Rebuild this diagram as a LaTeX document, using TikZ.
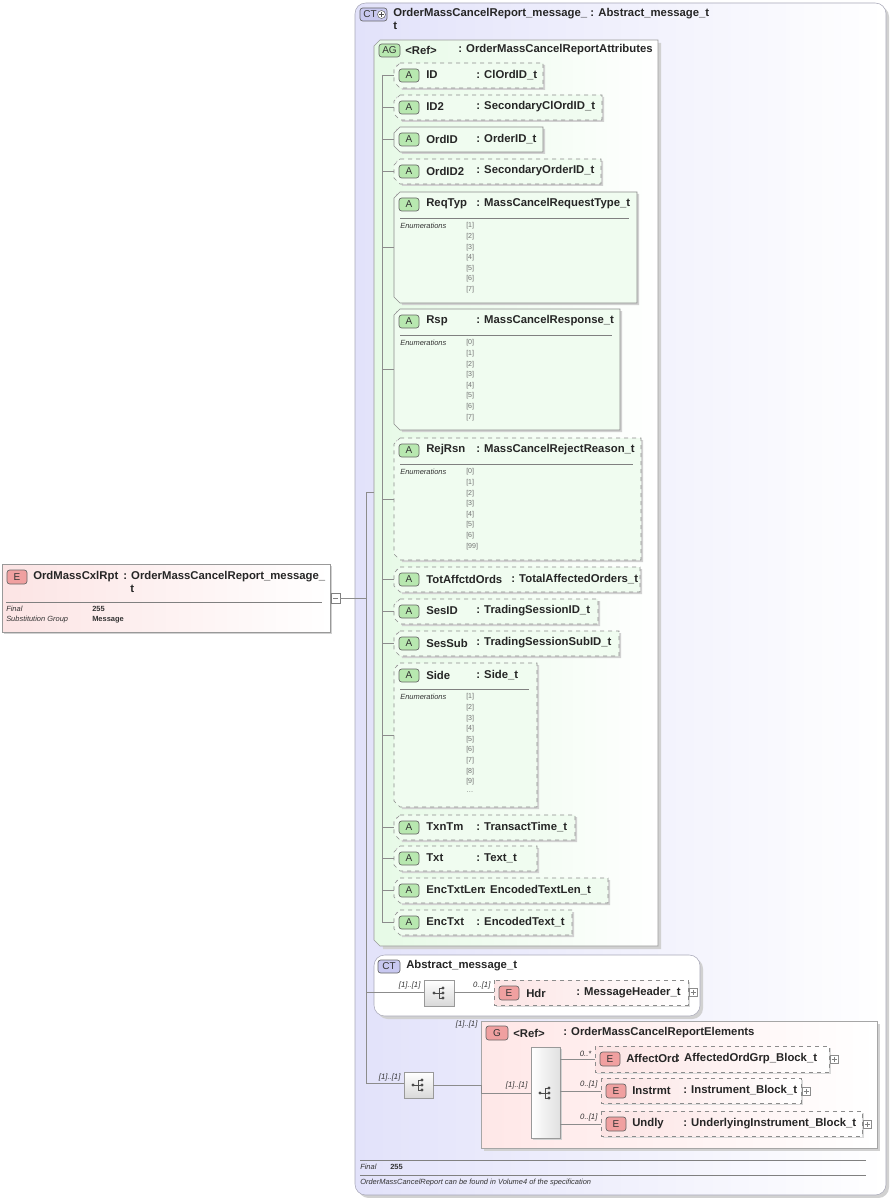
\documentclass[tikz,border=0pt]{standalone}
\usepackage{fontspec}
\setmainfont{Liberation Sans}
\usetikzlibrary{calc}
\definecolor{ctfill}{HTML}{E2E2FA}
\definecolor{ctedge}{HTML}{A8A8B8}
\definecolor{agfill}{HTML}{E6FAE6}
\definecolor{agbadge}{HTML}{B8E8B0}
\definecolor{efill}{HTML}{FCE4E4}
\definecolor{ebadge}{HTML}{F0A0A0}
\definecolor{ctbadge}{HTML}{C8C8F0}
\definecolor{gline}{HTML}{8C8C8C}
\tikzset{
 hdr/.style={font=\fontsize{8.5}{10}\selectfont\bfseries, anchor=west, inner sep=0pt, text=black!85},
 sm/.style={font=\fontsize{5.6}{6.5}\selectfont, anchor=west, inner sep=0pt, text=black!80},
 smb/.style={font=\fontsize{5.6}{6.5}\selectfont\bfseries, anchor=west, inner sep=0pt, text=black!80},
 smi/.style={font=\fontsize{5.6}{6.5}\selectfont\itshape, anchor=west, inner sep=0pt, text=black!80},
 enum/.style={font=\fontsize{5.3}{6.5}\selectfont, anchor=west, inner sep=0pt, text=black!55},
 card/.style={font=\fontsize{5.8}{7}\selectfont\itshape, anchor=south east, inner sep=1pt, text=black!80},
 conn/.style={draw=gline, line width=0.6pt},
 badge/.style={rounded corners=2pt, draw=black!60, line width=0.5pt},
 bfont/.style={font=\fontsize{7.5}{8}\selectfont, text=black!80},
}
% id y1 y2 xr name type dash typex
\newcommand\attrbox[8]{%
 \fill[black!18] (396,#2+2)--(#4+2,#2+2)--(#4+2,#3+2)--(402,#3+2)--cycle;
 \path[fill=agfill!60!white, draw=black!45, line width=0.5pt, #7] (400,#2)--(#4,#2)--(#4,#3)--(400,#3)--(394,#3-6)--(394,#2+6)--cycle;
 \draw[badge, fill=agbadge] (399,#2+6) rectangle (419,#2+19);
 \node[bfont] (#1b) at (409,#2+12.5) {A};
 \node[hdr] (#1n) at (426,#2+12) {#5};
 \node[hdr] (#1t) at (#8,#2+12) {: #6};
 \coordinate (#1c) at (394,{(#2+#3)/2});
 \draw[conn] (382,{(#2+#3)/2}) -- (#1c);
}
\newcommand\enums[4]{% id, y1, xr, list
 \draw[black!50, line width=0.5pt] (400,#2+26) -- (#3-8,#2+26);
 \node[smi] (#1e) at (400,#2+34) {Enumerations};
 \foreach \v [count=\i from 0] in {#4} { \node[enum] at (466,#2+34+\i*10.6) {[\v]}; }
}
\newcommand\seqicon[2]{%
 \fill[black!70] (#1-5,#2) circle (1.6);
 \draw[black!70, line width=0.6pt] (#1-5,#2) -- (#1,#2) (#1,#2-5) -- (#1,#2+5) (#1,#2-5) -- (#1+4,#2-5) (#1,#2) -- (#1+4,#2) (#1,#2+5) -- (#1+4,#2+5);
 \fill[black!70] (#1+4,#2-5) circle (1.6) (#1+4,#2) circle (1.6) (#1+4,#2+5) circle (1.6);
}
% id x1 y1 x2 y2 name type typeoffset
\newcommand\elem[8]{%
 \fill[black!15] (#2+2,#3+2) rectangle (#4+2,#5+2);
 \shade[left color=efill, right color=white] (#2,#3) rectangle (#4,#5);
 \draw[black!45, dashed, line width=0.5pt] (#2,#3) rectangle (#4,#5);
 \draw[badge, fill=ebadge] (#2+5,#3+6) rectangle (#2+25,#3+20);
 \node[bfont] (#1b) at (#2+15,#3+13) {E};
 \node[hdr] (#1n) at (#2+31,#3+12.5) {#6};
 \node[hdr] (#1t) at (#2+#8,#3+12.5) {: #7};
 \draw[black!45, fill=white, line width=0.4pt] (#4+1,#3+9) rectangle (#4+9,#3+17);
 \draw[black!50, line width=0.4pt] (#4+2.5,#3+13) -- (#4+7.5,#3+13) (#4+5,#3+10.5) -- (#4+5,#3+15.5);
 \draw[conn] (560,#3+13) -- (#2,#3+13);
}
\begin{document}
\begin{tikzpicture}[x=0.75pt,y=-0.75pt]
\useasboundingbox (0,0) rectangle (891,1198);
\fill[white] (0,0) rectangle (891,1198);
% left element
\fill[black!18] (4,566) rectangle (332,634);
\shade[left color=efill, right color=white] (2,564) rectangle (330,632);
\draw[black!40] (2,564) rectangle (330,632);
\draw[badge, fill=ebadge] (7,570) rectangle (27,584);
\node[bfont] (eb) at (17,577) {E};
\node[hdr] (en) at (33,577) {OrdMassCxlRpt};
\node[hdr] (et) at (123,577) {: OrderMassCancelReport\_message\_};
\node[hdr] (et2) at (130,589) {t};
\draw[black!50, line width=0.5pt] (6,602) -- (322,602);
\node[smi] (f1) at (6,609) {Final};
\node[smb] (f1v) at (92,609) {255};
\node[smi] (f2) at (6,620) {Substitution Group};
\node[smb] (f2v) at (92,620) {Message};
\draw[black!50, fill=white, line width=0.4pt] (331,593) rectangle (340,603);
\draw[black!50, line width=0.4pt] (333,598) -- (338,598);
\coordinate (minus) at (340,598);
% outer CT
\fill[black!18, rounded corners=8pt] (358,6) rectangle (889,1198);
\shade[rounded corners=8pt, left color=ctfill, right color=white] (355,3) rectangle (886,1195);
\draw[rounded corners=8pt, ctedge] (355,3) rectangle (886,1195);
\draw[badge, fill=ctbadge] (360,8) rectangle (387,21);
\node[bfont] (ctb) at (370,14.5) {CT};
\draw[black!60, fill=white] (381.5,14.5) circle (4);
\draw[black!70, line width=0.7pt] (379,14.5)--(384,14.5) (381.5,12)--(381.5,17);
\node[hdr] (ctn) at (393,14) {OrderMassCancelReport\_message\_ : Abstract\_message\_t};
\node[hdr] (ctn2) at (393,26) {t};
\draw[conn] (minus) -- (366,598);
\draw[conn] (366,492) -- (366,1083);
% AG
\fill[black!18] (377,43) -- (661,43) -- (661,949) -- (383,949) -- cycle;
\shade[left color=agfill, right color=white] (380,40) -- (658,40) -- (658,946) -- (380,946) -- (374,940) -- (374,46) -- cycle;
\draw[black!40, line width=0.5pt] (380,40) -- (658,40) -- (658,946) -- (380,946) -- (374,940) -- (374,46) -- cycle;
\draw[conn] (366,492) -- (374,492);
\draw[badge, fill=agbadge] (379,44) rectangle (400,57);
\node[bfont] (agb) at (389.5,50.5) {AG};
\node[hdr] (agn) at (405,50) {<Ref>};
\node[hdr] (agt) at (458,50) {: OrderMassCancelReportAttributes};
\draw[conn] (382,75) -- (382,922);
\attrbox{id}{63}{88}{543}{ID}{ClOrdID\_t}{dashed}{476}
\attrbox{idb}{95}{120}{602}{ID2}{SecondaryClOrdID\_t}{dashed}{476}
\attrbox{oid}{127}{152}{543}{OrdID}{OrderID\_t}{}{476}
\attrbox{oidb}{159}{184}{601}{OrdID2}{SecondaryOrderID\_t}{dashed}{476}
\attrbox{rt}{192}{303}{637}{ReqTyp}{MassCancelRequestType\_t}{}{476}
\enums{rt}{192}{637}{1,2,3,4,5,6,7}
\attrbox{rsp}{309}{430}{620}{Rsp}{MassCancelResponse\_t}{}{476}
\enums{rsp}{309}{620}{0,1,2,3,4,5,6,7}
\attrbox{rej}{438}{560}{641}{RejRsn}{MassCancelRejectReason\_t}{dashed}{476}
\enums{rej}{438}{641}{0,1,2,3,4,5,6,99}
\attrbox{tot}{567}{592}{640}{TotAffctdOrds}{TotalAffectedOrders\_t}{dashed}{511}
\attrbox{ses}{599}{624}{598}{SesID}{TradingSessionID\_t}{dashed}{476}
\attrbox{sub}{631}{656}{619}{SesSub}{TradingSessionSubID\_t}{dashed}{476}
\attrbox{side}{663}{807}{537}{Side}{Side\_t}{dashed}{476}
\enums{side}{663}{537}{1,2,3,4,5,6,7,8,9}
\node[enum] (sidedots) at (466,{663+34+9*10.6}) {\ldots};
\attrbox{txn}{815}{840}{575}{TxnTm}{TransactTime\_t}{dashed}{476}
\attrbox{txt}{846}{871}{537}{Txt}{Text\_t}{dashed}{476}
\attrbox{etl}{878}{903}{608}{EncTxtLen}{EncodedTextLen\_t}{dashed}{482}
\attrbox{etx}{910}{935}{572}{EncTxt}{EncodedText\_t}{dashed}{476}
% Abstract CT
\fill[black!18, rounded corners=8pt] (377,958) rectangle (703,1019);
\draw[rounded corners=8pt, fill=white, draw=ctedge] (374,955) rectangle (700,1016);
\draw[badge, fill=ctbadge] (378,960) rectangle (400,973);
\node[bfont] (act) at (389,966.5) {CT};
\node[hdr] (acn) at (406,966) {Abstract\_message\_t};
\draw[conn] (366,992) -- (424,992);
\node[card] at (422,991) {[1]..[1]};
\shade[top color=white, bottom color=black!15] (424,980) rectangle (454,1006);
\draw[black!40] (424,980) rectangle (454,1006);
\seqicon{439}{993}
\fill[black!15] (496,982) rectangle (690,1007);
\shade[left color=efill, right color=white] (494,980) rectangle (688,1005);
\draw[black!45, dashed, line width=0.5pt] (494,980) rectangle (688,1005);
\draw[conn] (454,992) -- (494,992);
\node[card] at (492,991) {0..[1]};
\draw[badge, fill=ebadge] (499,986) rectangle (519,1000);
\node[bfont] (hdrb) at (509,993) {E};
\node[hdr] (hdrn) at (526,993) {Hdr};
\node[hdr] (hdrt) at (576,993) {: MessageHeader\_t};
\draw[black!45, fill=white, line width=0.4pt] (689,988) rectangle (697,996);
\draw[black!50, line width=0.4pt] (690.5,992) -- (695.5,992) (693,989.5) -- (693,994.5);
% second sequence
\draw[conn] (366,1083) -- (404,1083);
\node[card] at (402,1083) {[1]..[1]};
\shade[top color=white, bottom color=black!15] (404,1072) rectangle (433,1098);
\draw[black!40] (404,1072) rectangle (433,1098);
\seqicon{418}{1085}
% G box
\fill[black!18] (484,1024) rectangle (880,1151);
\shade[left color=efill!70!red!25, right color=white] (481,1021) rectangle (877,1148);
\draw[black!35] (481,1021) rectangle (877,1148);
\node[card] at (479,1030) {[1]..[1]};
\draw[conn] (433,1085) -- (481,1085) -- (481,1093) -- (531,1093);
\node[card] at (529,1091) {[1]..[1]};
\draw[badge, fill=ebadge] (486,1026) rectangle (508,1040);
\node[bfont] (gb) at (497,1033) {G};
\node[hdr] (gn) at (513,1033) {<Ref>};
\node[hdr] (gt) at (563,1033) {: OrderMassCancelReportElements};
\fill[black!18] (533,1049) rectangle (562,1140);
\shade[left color=white, right color=black!12] (531,1047) rectangle (560,1138);
\draw[black!40] (531,1047) rectangle (560,1138);
\seqicon{545}{1093}
\elem{ao}{595}{1046}{829}{1072}{AffectOrd}{AffectedOrdGrp\_Block\_t}{81}
\node[card] at (593,1058) {0..*};
\elem{ins}{601}{1078}{801}{1103}{Instrmt}{Instrument\_Block\_t}{82}
\node[card] at (599,1090) {0..[1]};
\elem{und}{601}{1111}{862}{1136}{Undly}{UnderlyingInstrument\_Block\_t}{82}
\node[card] at (599,1123) {0..[1]};
% footer
\draw[black!50, line width=0.5pt] (360,1160) -- (866,1160);
\node[smi] (ff) at (360,1167) {Final};
\node[smb] (ffv) at (390,1167) {255};
\draw[black!50, line width=0.5pt] (360,1175) -- (866,1175);
\node[smi] (fnote) at (360,1183) {OrderMassCancelReport can be found in Volume4 of the specification};
\end{tikzpicture}
\end{document}
